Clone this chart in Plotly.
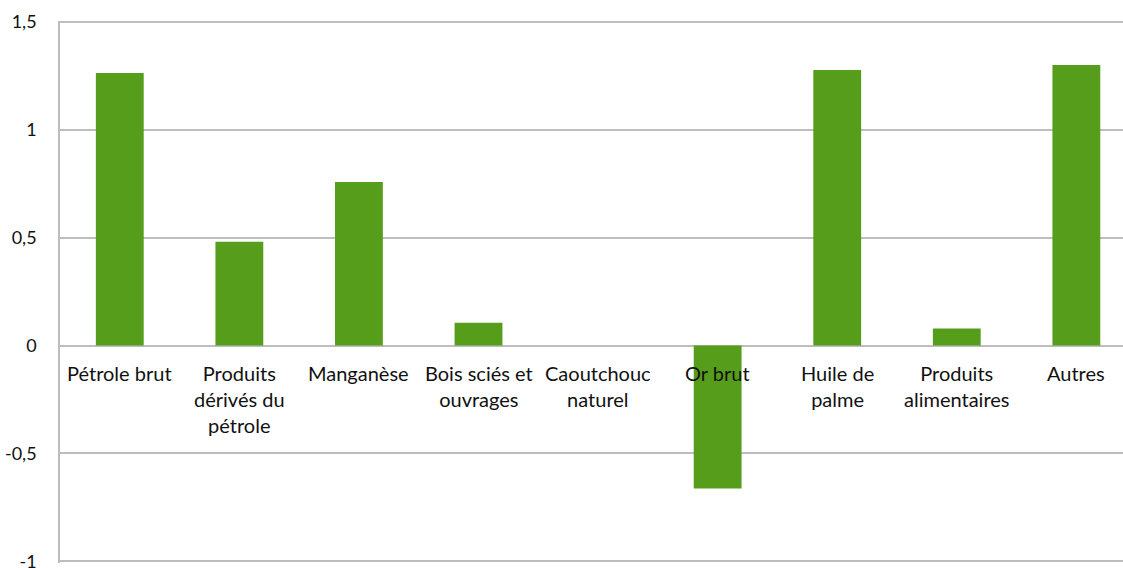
import plotly.graph_objects as go

categories = ["Pétrole brut", "Produits dérivés du pétrole", "Manganèse", "Bois sciés et ouvrages",
              "Caoutchouc naturel", "Or brut", "Huile de palme", "Produits alimentaires", "Autres"]
labels = ["Pétrole brut", "Produits<br>dérivés du<br>pétrole", "Manganèse", "Bois sciés et<br>ouvrages",
          "Caoutchouc<br>naturel", "Or brut", "Huile de<br>palme", "Produits<br>alimentaires", "Autres"]
values = [1.264, 0.481, 0.759, 0.106, 0.0, -0.662, 1.278, 0.079, 1.301]
tick_vals = [-1, -0.5, 0, 0.5, 1, 1.5]
tick_text = ["-1", "-0,5", "0", "0,5", "1", "1,5"]

FONT = "Lato"
GRID = "#BDBDBD"

fig = go.Figure(go.Bar(x=categories, y=values, marker=dict(color="#579D1C", line=dict(width=0))))

for c, t in zip(categories, labels):
    fig.add_annotation(x=c, y=0, xref="x", yref="y", text=t, showarrow=False,
                       yanchor="top", yshift=-13, align="center",
                       font=dict(family=FONT, size=20, color="#111111"))

fig.update_layout(
    width=1123, height=568,
    margin=dict(l=60, r=0, t=21, b=5),
    plot_bgcolor="white", paper_bgcolor="white",
    bargap=0.6, showlegend=False,
    font=dict(family=FONT, size=18, color="#111111"),
)
# plot area in the reference extends past the right edge of the image
fig.update_xaxes(range=[-0.5, 8.39], showticklabels=False, showgrid=False,
                 showline=False, zeroline=False, ticks="", automargin=False)
fig.update_yaxes(range=[-1.008, 1.505], tickvals=tick_vals, ticktext=tick_text,
                 showgrid=True, gridcolor=GRID, gridwidth=1.5,
                 zeroline=True, zerolinecolor=GRID, zerolinewidth=1.5,
                 showline=True, linecolor=GRID, linewidth=1.5, automargin=False,
                 ticks="", ticklabelstandoff=18, ticklabeloverflow="allow",
                 tickfont=dict(family=FONT, size=18, color="#111111"))

fig.write_html("out.html", config={"displayModeBar": False},
               post_script="document.body.style.margin='0';document.body.style.overflow='hidden';")
